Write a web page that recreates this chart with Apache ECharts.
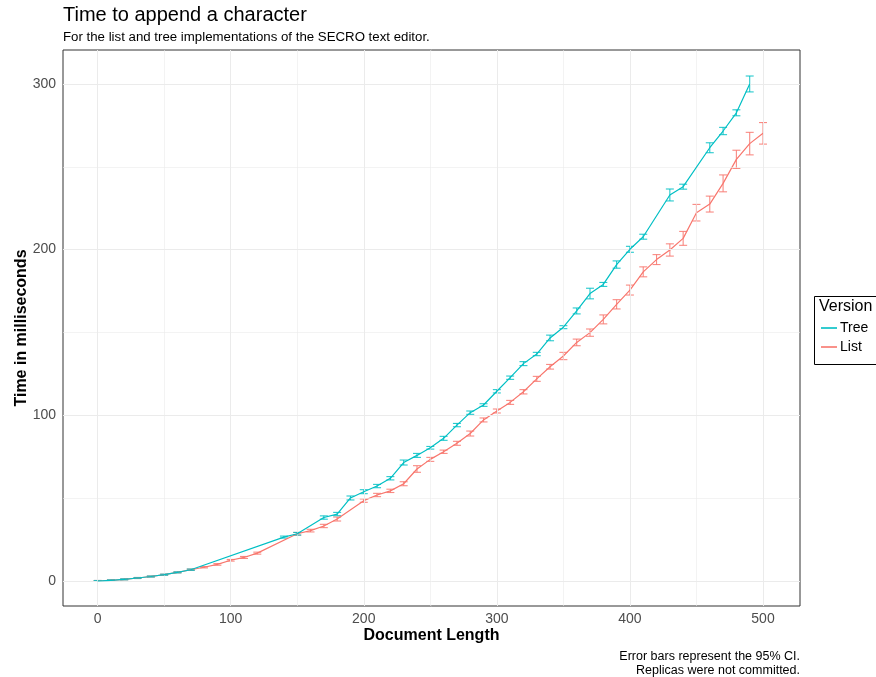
<!DOCTYPE html>
<html>
<head>
<meta charset="utf-8">
<script src="https://cdn.jsdelivr.net/npm/echarts@6/dist/echarts.min.js"></script>
<style>
html,body{margin:0;padding:0;background:#fff;}
#chart{width:876px;height:677px;}
</style>
</head>
<body>
<div id="chart"></div>
<script>
// ---- data ----
const treeX = [0,10,20,30,40,50,60,70,140,150,170,180,190,200,210,220,230,240,250,260,270,280,290,300,310,320,330,340,350,360,370,380,390,400,410,430,440,460,470,480,490];
const treeY = [0,0.4,1.0,1.8,2.7,3.8,5.2,6.8,26.5,28.5,38.3,40.4,50.1,53.9,57.3,62,71.5,75.8,80.4,86.1,94.1,101.6,106.2,114.5,122.7,131.2,137,146.7,153.2,163,173.5,179,191,200.2,207.8,233,238,261.5,271.6,282.6,300];
const treeErr = [0.3,0.3,0.3,0.3,0.3,0.3,0.3,0.4,0.6,0.8,1,1,1.2,1.2,1,1,1.5,1.2,0.8,1.2,1,1,0.8,1,1,1.2,1,1.7,0.9,1.8,3.2,1.2,2.2,1.8,1.5,3.6,1.5,3,2.2,1.8,4.8];

const listX = [0,10,20,30,40,50,60,70,80,90,100,110,120,150,160,170,180,200,210,220,230,240,250,260,270,280,290,300,310,320,330,340,350,360,370,380,390,400,410,420,430,440,450,460,470,480,490,500];
const listY = [0,0.4,1.0,1.8,2.7,3.8,5.2,6.8,8.3,10.0,12.5,14.2,16.8,28.5,30.4,33.2,37.4,48.5,51.9,54.4,58.7,67.6,73.4,78,83.1,89,97.2,102.6,107.8,114.2,122,129.3,135.8,144,149.9,157.9,167,175.6,186.6,194,199.8,206.8,222.3,227.5,240,254.5,264,270.2];
const listErr = [0.3,0.3,0.3,0.3,0.3,0.3,0.3,0.4,0.4,0.5,0.5,0.6,0.6,0.8,0.8,1,1.2,1,1,1,1.2,2,1.2,1,1.2,1.5,1.2,1.2,1.2,1.3,1.5,1.4,2.2,2,2.2,2.7,2.8,3,3,3,3.7,4.2,5,4.8,5.1,5.5,6.8,6.5];

const xTicks = [0,100,200,300,400,500];
const yTicks = [0,100,200,300];
const xMinor = [50,150,250,350,450];
const yMinor = [50,150,250];

const TREE = '#00BFC4', LIST = '#F8766D';
const FONT = '"Liberation Sans", Arial, Helvetica, sans-serif';

const chart = echarts.init(document.getElementById('chart'));

function errSeries(name, xs, ys, es, color) {
  return {
    name: name, type: 'custom', z: 3,
    encode: {x: 0, y: [1, 2]},
    data: xs.map((x, i) => [x, ys[i] - es[i], ys[i] + es[i]]),
    renderItem: function (params, api) {
      const x = api.value(0);
      const lo = api.coord([x, api.value(1)]);
      const hi = api.coord([x, api.value(2)]);
      const hw = api.size([3, 0])[0];
      const st = {stroke: color, lineWidth: 1.1, opacity: 0.85};
      return {type: 'group', children: [
        {type: 'line', shape: {x1: lo[0], y1: lo[1], x2: hi[0], y2: hi[1]}, style: st},
        {type: 'line', shape: {x1: lo[0]-hw, y1: lo[1], x2: lo[0]+hw, y2: lo[1]}, style: st},
        {type: 'line', shape: {x1: hi[0]-hw, y1: hi[1], x2: hi[0]+hw, y2: hi[1]}, style: st}
      ]};
    }
  };
}

const gridLines = [];
xTicks.forEach(v => gridLines.push({xAxis: v, lineStyle: {width: 1}}));
yTicks.forEach(v => gridLines.push({yAxis: v, lineStyle: {width: 1}}));
xMinor.forEach(v => gridLines.push({xAxis: v, lineStyle: {width: 0.6}}));
yMinor.forEach(v => gridLines.push({yAxis: v, lineStyle: {width: 0.6}}));

const option = {
  animation: false,
  textStyle: {fontFamily: FONT},
  grid: {left: 63, top: 50, right: 76, bottom: 71, outerBoundsMode: 'none', containLabel: false,
         show: true, borderColor: '#333333', borderWidth: 1, backgroundColor: '#fff'},
  xAxis: {
    type: 'value', min: -26, max: 527.8,
    axisLine: {show: false},
    splitLine: {show: false},
    axisTick: {show: true, customValues: xTicks, length: 4, lineStyle: {color: '#333'}},
    axisLabel: {customValues: xTicks, color: '#4D4D4D', fontSize: 14, margin: 6, fontFamily: FONT},
    name: 'Document Length', nameLocation: 'middle', nameGap: 22, nameMoveOverlap: false,
    nameTextStyle: {fontSize: 16, fontWeight: 'bold', color: '#000', fontFamily: FONT}
  },
  yAxis: {
    type: 'value', min: -15.1, max: 320.5,
    axisLine: {show: false},
    splitLine: {show: false},
    axisTick: {show: true, customValues: yTicks, length: 4, lineStyle: {color: '#333'}},
    axisLabel: {customValues: yTicks, color: '#4D4D4D', fontSize: 14, margin: 7, fontFamily: FONT},
    name: 'Time in milliseconds', nameLocation: 'middle', nameGap: 33, nameRotate: 90, nameMoveOverlap: false,
    nameTextStyle: {fontSize: 16, fontWeight: 'bold', color: '#000', fontFamily: FONT}
  },
  legend: {
    data: ['Tree', 'List'], orient: 'vertical', left: 816, top: 316,
    icon: 'rect', itemWidth: 16, itemHeight: 1.6, itemGap: 5,
    textStyle: {fontSize: 14, color: '#000', fontFamily: FONT, padding: [0,0,0,-2]},
    inactiveColor: '#ccc'
  },
  graphic: [
    {type: 'text', left: 63, top: 5, style: {text: 'Time to append a character', fontSize: 20, fill: '#000', fontFamily: FONT}},
    {type: 'text', left: 63, top: 31, style: {text: 'For the list and tree implementations of the SECRO text editor.', fontSize: 13.25, fill: '#000', fontFamily: FONT}},
    {type: 'text', right: 76, top: 650, style: {text: 'Error bars represent the 95% CI.', fontSize: 12.5, fill: '#000', fontFamily: FONT}},
    {type: 'text', right: 76, top: 664, style: {text: 'Replicas were not committed.', fontSize: 12.5, fill: '#000', fontFamily: FONT}},
    {type: 'rect', left: 812, top: 294, shape: {width: 90, height: 68}, style: {fill: 'none', stroke: '#000', lineWidth: 1}},
    {type: 'text', left: 819, top: 299, style: {text: 'Version', fontSize: 16, fill: '#000', fontFamily: FONT}}
  ],
  series: [
    {
      name: 'grid', type: 'line', data: [], z: 1, silent: true,
      markLine: {silent: true, symbol: 'none', label: {show: false}, animation: false,
        lineStyle: {color: '#EBEBEB', type: 'solid'}, data: gridLines}
    },
    errSeries('List CI', listX, listY, listErr, LIST),
    {name: 'List', type: 'line', z: 4, data: listX.map((x, i) => [x, listY[i]]), symbol: 'none', color: LIST, lineStyle: {width: 1.2, color: LIST}},
    errSeries('Tree CI', treeX, treeY, treeErr, TREE),
    {name: 'Tree', type: 'line', z: 5, data: treeX.map((x, i) => [x, treeY[i]]), symbol: 'none', color: TREE, lineStyle: {width: 1.2, color: TREE}}
  ]
};
chart.setOption(option);
</script>
</body>
</html>
